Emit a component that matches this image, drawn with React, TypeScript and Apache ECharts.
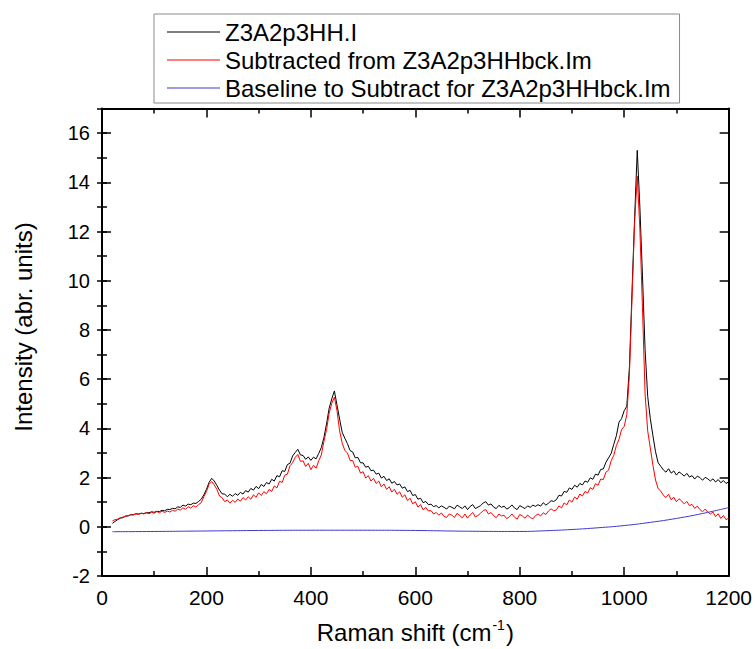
import React, { useEffect, useRef } from "react";
import * as echarts from "echarts";

const FONT = '"Liberation Sans", Arial, Helvetica, sans-serif';

// Sampling grid of the two measured spectra (Raman shift, cm-1)
const X_START = 20;
const X_STEP = 5;

// Z3A2p3HH.I (raw spectrum), one value every 5 cm-1 from 20 to 1200
const RAW_VALUES = [
  0.14, 0.22, 0.29, 0.35, 0.37, 0.43, 0.44, 0.49, 0.49, 0.53,
  0.52, 0.55, 0.54, 0.57, 0.57, 0.61, 0.59, 0.63, 0.62, 0.67,
  0.65, 0.71, 0.70, 0.75, 0.73, 0.81, 0.79, 0.88, 0.84, 0.92,
  0.90, 0.96, 0.95, 1.03, 1.12, 1.30, 1.52, 1.80, 1.97, 1.86,
  1.68, 1.49, 1.34, 1.33, 1.22, 1.32, 1.24, 1.35, 1.28, 1.40,
  1.33, 1.47, 1.41, 1.56, 1.49, 1.64, 1.55, 1.72, 1.64, 1.80,
  1.74, 1.93, 1.86, 2.08, 2.03, 2.28, 2.25, 2.53, 2.58, 2.88,
  3.02, 3.15, 2.92, 2.90, 2.74, 2.84, 2.70, 2.83, 2.76, 2.98,
  3.22, 3.63, 4.18, 4.82, 5.20, 5.52, 4.95, 4.38, 3.84, 3.60,
  3.38, 3.10, 3.04, 2.80, 2.82, 2.60, 2.60, 2.42, 2.46, 2.28,
  2.30, 2.14, 2.18, 1.98, 2.05, 1.88, 1.95, 1.77, 1.84, 1.70,
  1.74, 1.57, 1.62, 1.43, 1.48, 1.27, 1.31, 1.12, 1.16, 0.98,
  1.03, 0.90, 0.92, 0.82, 0.86, 0.77, 0.85, 0.79, 0.72, 0.84,
  0.79, 0.73, 0.88, 0.81, 0.74, 0.85, 0.70, 0.83, 0.90, 0.74,
  0.80, 0.86, 0.97, 1.02, 0.88, 0.93, 0.80, 0.74, 0.87, 0.79,
  0.84, 0.72, 0.78, 0.89, 0.76, 0.70, 0.86, 0.80, 0.74, 0.85,
  0.79, 0.88, 0.83, 0.90, 0.84, 0.98, 0.88, 0.96, 1.06, 1.03,
  1.10, 1.28, 1.25, 1.44, 1.40, 1.58, 1.52, 1.69, 1.61, 1.76,
  1.70, 1.86, 1.81, 1.99, 1.93, 2.14, 2.10, 2.33, 2.35, 2.62,
  2.80, 2.98, 3.35, 3.70, 4.25, 4.40, 4.72, 4.90, 6.50, 9.60,
  12.60, 15.30, 13.00, 10.20, 7.20, 5.30, 4.40, 3.70, 3.05, 2.60,
  2.46, 2.31, 2.22, 2.36, 2.18, 2.27, 2.10, 2.23, 2.15, 2.06,
  2.17, 2.02, 2.08, 1.94, 2.06, 2.00, 1.89, 2.01, 1.95, 1.86,
  1.95, 1.82, 1.92, 1.79, 1.88, 1.76, 1.83,
];

// Subtracted from Z3A2p3HHbck.Im, same sampling grid
const SUB_VALUES = [
  0.24, 0.29, 0.31, 0.37, 0.39, 0.44, 0.45, 0.49, 0.48, 0.53,
  0.50, 0.55, 0.52, 0.57, 0.53, 0.59, 0.55, 0.62, 0.57, 0.64,
  0.58, 0.64, 0.60, 0.67, 0.63, 0.72, 0.68, 0.77, 0.71, 0.82,
  0.76, 0.86, 0.80, 0.90, 0.98, 1.22, 1.43, 1.72, 1.84, 1.70,
  1.52, 1.25, 1.18, 1.02, 1.09, 0.96, 1.08, 0.99, 1.13, 1.04,
  1.19, 1.09, 1.22, 1.12, 1.30, 1.20, 1.38, 1.27, 1.43, 1.34,
  1.52, 1.44, 1.66, 1.58, 1.85, 1.80, 2.10, 2.14, 2.48, 2.60,
  2.82, 2.94, 2.66, 2.68, 2.45, 2.58, 2.32, 2.50, 2.38, 2.68,
  2.92, 3.48, 3.95, 4.62, 5.02, 5.27, 4.72, 3.90, 3.40, 3.10,
  3.00, 2.70, 2.69, 2.42, 2.46, 2.18, 2.24, 1.98, 2.08, 1.86,
  1.97, 1.76, 1.86, 1.62, 1.74, 1.52, 1.63, 1.41, 1.53, 1.32,
  1.42, 1.20, 1.30, 1.06, 1.16, 0.93, 1.02, 0.80, 0.90, 0.69,
  0.79, 0.64, 0.66, 0.52, 0.58, 0.47, 0.56, 0.42, 0.38, 0.52,
  0.47, 0.38, 0.55, 0.46, 0.36, 0.52, 0.35, 0.48, 0.58, 0.40,
  0.46, 0.55, 0.66, 0.70, 0.52, 0.58, 0.45, 0.37, 0.52, 0.44,
  0.47, 0.33, 0.40, 0.52, 0.39, 0.31, 0.50, 0.44, 0.35, 0.48,
  0.38, 0.32, 0.45, 0.52, 0.44, 0.57, 0.50, 0.64, 0.73, 0.65,
  0.68, 0.85, 0.77, 0.97, 0.89, 1.09, 1.00, 1.21, 1.12, 1.33,
  1.25, 1.44, 1.37, 1.59, 1.52, 1.75, 1.69, 1.94, 1.92, 2.22,
  2.30, 2.68, 2.90, 3.30, 3.55, 3.95, 4.08, 4.55, 6.20, 9.30,
  12.40, 14.25, 12.10, 8.90, 5.40, 3.90, 3.20, 2.50, 1.90, 1.55,
  1.45, 1.28, 1.19, 1.32, 1.10, 1.20, 1.02, 1.14, 1.05, 0.93,
  1.03, 0.86, 0.91, 0.75, 0.84, 0.70, 0.61, 0.72, 0.60, 0.52,
  0.60, 0.41, 0.53, 0.34, 0.46, 0.29, 0.35,
];

// Baseline to Subtract for Z3A2p3HHbck.Im
const BASE_X = [20, 100, 200, 300, 400, 500, 600, 700, 800, 850, 900, 950, 1000, 1050, 1100, 1150, 1200];
const BASE_Y = [-0.2, -0.19, -0.17, -0.15, -0.14, -0.14, -0.15, -0.18, -0.19, -0.16, -0.11, -0.04, 0.05, 0.18, 0.34, 0.54, 0.78];

const SERIES_NAMES = [
  "Z3A2p3HH.I",
  "Subtracted from Z3A2p3HHbck.Im",
  "Baseline to Subtract for Z3A2p3HHbck.Im",
];
const SERIES_COLORS = ["#000000", "#ff0000", "#3a3ad0"];

const X_MIN = 0;
const X_MAX = 1200;
const X_INTERVAL = 200;
const Y_MIN = -2;
const Y_MAX = 17;
const Y_INTERVAL = 2;

export default function App() {
  const ref = useRef<HTMLDivElement>(null);

  useEffect(() => {
    if (!ref.current) return;
    const chart = echarts.init(ref.current, null, { renderer: "svg" });

    const rawData = RAW_VALUES.map((v, i) => [X_START + i * X_STEP, v]);
    const subData = SUB_VALUES.map((v, i) => [X_START + i * X_STEP, v]);
    const baseData = BASE_X.map((x, i) => [x, BASE_Y[i]]);

    const axisLine = { show: true, onZero: false, lineStyle: { color: "#000", width: 2 } };
    const tickStyle = { color: "#000", width: 1.5 };
    const plain = (v: number) => String(v);

    const xCommon = {
      type: "value" as const,
      min: X_MIN,
      max: X_MAX,
      interval: X_INTERVAL,
      axisLine,
      axisTick: { show: true, inside: true, length: 9, lineStyle: tickStyle },
      minorTick: { show: true, splitNumber: 2, length: 5, lineStyle: tickStyle },
      splitLine: { show: false },
      minorSplitLine: { show: false },
    };

    const yMajor = {
      type: "value" as const,
      min: Y_MIN,
      max: Y_MAX,
      interval: Y_INTERVAL,
      axisLine,
      axisTick: { show: true, inside: true, length: 9, lineStyle: tickStyle },
      splitLine: { show: false },
    };
    const yMinor = {
      type: "value" as const,
      min: Y_MIN,
      max: Y_MAX,
      interval: 1,
      axisLine: { show: false },
      axisTick: { show: true, inside: true, length: 5, lineStyle: tickStyle },
      axisLabel: { show: false },
      splitLine: { show: false },
    };

    chart.setOption({
      animation: false,
      backgroundColor: "#ffffff",
      textStyle: { fontFamily: FONT },
      grid: { left: 102, right: 24, top: 108.5, bottom: 71.5, containLabel: false },
      legend: {
        orient: "vertical",
        left: 154,
        top: 14,
        padding: [6, 9, 3, 13],
        itemGap: 4,
        itemWidth: 53,
        itemHeight: 1,
        icon: "rect",
        borderColor: "#8a8a8a",
        borderWidth: 1,
        backgroundColor: "#ffffff",
        data: SERIES_NAMES,
        textStyle: { fontSize: 24, color: "#000", fontFamily: FONT },
      },
      xAxis: [
        {
          ...xCommon,
          position: "bottom",
          axisLabel: { show: true, fontSize: 21, color: "#000", margin: 11, fontFamily: FONT, formatter: plain },
          name: "{a|Raman shift (cm}{s|-1}{a|)}",
          nameLocation: "middle",
          nameGap: 42,
          nameTextStyle: {
            rich: {
              a: { fontSize: 24, color: "#000", fontFamily: FONT, lineHeight: 26, verticalAlign: "bottom" },
              s: { fontSize: 14, color: "#000", fontFamily: FONT, lineHeight: 26, verticalAlign: "top", padding: [0, 1, 12, 1] },
            },
          },
        },
        {
          ...xCommon,
          position: "top",
          axisLabel: { show: false },
        },
      ],
      yAxis: [
        {
          ...yMajor,
          position: "left",
          axisLabel: { show: true, fontSize: 20, color: "#000", margin: 12, fontFamily: FONT, showMaxLabel: false, formatter: plain },
        },
        { ...yMinor, position: "left" },
        { ...yMajor, position: "right", axisLabel: { show: false } },
        { ...yMinor, position: "right" },
      ],
      graphic: [
        {
          type: "text",
          x: 23,
          y: 327,
          rotation: Math.PI / 2,
          style: {
            text: "Intensity (abr. units)",
            fontSize: 24,
            fontFamily: FONT,
            fill: "#000",
            align: "center",
            verticalAlign: "middle",
          },
        },
      ],
      series: [
        {
          name: SERIES_NAMES[0],
          type: "line",
          data: rawData,
          xAxisIndex: 0,
          yAxisIndex: 0,
          showSymbol: false,
          symbol: "none",
          color: SERIES_COLORS[0],
          lineStyle: { color: SERIES_COLORS[0], width: 1 },
          z: 2,
        },
        {
          name: SERIES_NAMES[1],
          type: "line",
          data: subData,
          xAxisIndex: 0,
          yAxisIndex: 0,
          showSymbol: false,
          symbol: "none",
          color: SERIES_COLORS[1],
          lineStyle: { color: SERIES_COLORS[1], width: 1 },
          z: 3,
        },
        {
          name: SERIES_NAMES[2],
          type: "line",
          data: baseData,
          xAxisIndex: 0,
          yAxisIndex: 0,
          smooth: true,
          showSymbol: false,
          symbol: "none",
          color: SERIES_COLORS[2],
          lineStyle: { color: SERIES_COLORS[2], width: 1 },
          z: 4,
        },
      ],
    });

    return () => chart.dispose();
  }, []);

  return (
    <div
      ref={ref}
      style={{ position: "fixed", left: 0, top: 0, width: 755, height: 649, background: "#fff" }}
    />
  );
}
